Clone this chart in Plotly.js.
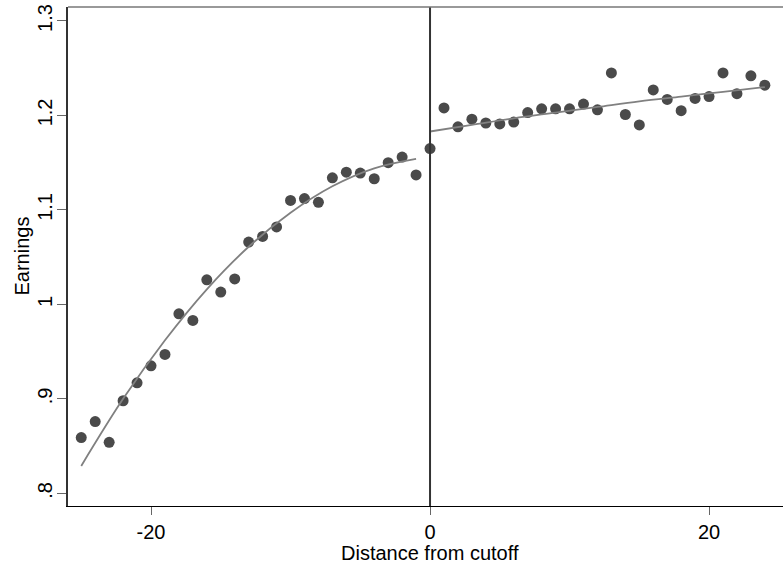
<!DOCTYPE html>
<html>
<head>
<meta charset="utf-8">
<script src="https://cdn.plot.ly/plotly-3.0.1.min.js"></script>
<style>html,body{margin:0;padding:0;background:#fff;}#chart{width:783px;height:569px;}</style>
</head>
<body>
<div id="chart"></div>
<script>
// Binned scatter: distance from cutoff vs earnings
const leftX = [-25,-24,-23,-22,-21,-20,-19,-18,-17,-16,-15,-14,-13,-12,-11,-10,-9,-8,-7,-6,-5,-4,-3,-2,-1];
const leftY = [0.859,0.876,0.854,0.898,0.917,0.935,0.947,0.990,0.983,1.026,1.013,1.027,1.066,1.072,1.082,1.110,1.112,1.108,1.134,1.140,1.139,1.133,1.150,1.156,1.137];
const rightX = [0,1,2,3,4,5,6,7,8,9,10,11,12,13,14,15,16,17,18,19,20,21,22,23,24];
const rightY = [1.165,1.208,1.188,1.196,1.192,1.191,1.193,1.203,1.207,1.207,1.207,1.212,1.206,1.245,1.201,1.190,1.227,1.217,1.205,1.218,1.220,1.245,1.223,1.242,1.232];
// Fitted curves
const fitLeftX = [-25,-22,-19,-16,-13,-10,-7,-4,-1];
const fitLeftY = [0.829,0.900,0.962,1.016,1.061,1.097,1.125,1.144,1.154];
const fitRightX = [0,3,6,9,12,15,18,21,24];
const fitRightY = [1.183,1.190,1.197,1.203,1.209,1.215,1.220,1.225,1.230];
const yTickVals = [0.8,0.9,1.0,1.1,1.2,1.3];
const yTickText = [".8",".9","1","1.1","1.2","1.3"];
const xTickVals = [-20,0,20];
const xTickText = ["-20","0","20"];

const markerStyle = {color:'#4a4a4a', size:11, line:{width:0}};
const fitStyle = {color:'#808080', width:1.8, shape:'spline'};

const traces = [
  {x:leftX, y:leftY, type:'scatter', mode:'markers', marker:markerStyle, hoverinfo:'skip'},
  {x:rightX, y:rightY, type:'scatter', mode:'markers', marker:markerStyle, hoverinfo:'skip'},
  {x:fitLeftX, y:fitLeftY, type:'scatter', mode:'lines', line:fitStyle, hoverinfo:'skip'},
  {x:fitRightX, y:fitRightY, type:'scatter', mode:'lines', line:fitStyle, hoverinfo:'skip'}
];

const fam = 'Liberation Sans, Arial, sans-serif';
const fs = 20;

const layout = {
  width:783, height:569,
  margin:{l:68, r:0, t:7, b:63, pad:0},
  paper_bgcolor:'#fff', plot_bgcolor:'#fff',
  showlegend:false,
  font:{family:fam, size:fs, color:'#000'},
  xaxis:{
    range:[-25.95, 25.3], showgrid:false, zeroline:false,
    showline:true, linecolor:'#000', linewidth:1.2,
    tickmode:'array', tickvals:xTickVals, ticktext:xTickText,
    ticks:'outside', ticklen:8, tickcolor:'#666', tickwidth:1,
    tickfont:{family:fam, size:fs, color:'#000'},
    title:{text:''}
  },
  yaxis:{
    range:[0.7866, 1.3148], showgrid:false, zeroline:false,
    showline:true, linecolor:'#333', linewidth:2,
    tickmode:'array', tickvals:yTickVals, ticktext:yTickText,
    ticks:'outside', ticklen:9, tickcolor:'#666', tickwidth:1,
    tickangle:-90, ticklabelstandoff:-3,
    tickfont:{family:fam, size:fs, color:'#000'},
    title:{text:''}
  },
  shapes:[
    {type:'line', xref:'x', yref:'paper', x0:0, x1:0, y0:0, y1:1, line:{color:'#333', width:2}},
    {type:'line', xref:'paper', yref:'paper', x0:0, x1:1, y0:1, y1:1, line:{color:'#777', width:1.5}}
  ],
  annotations:[
    {text:'Distance from cutoff', xref:'x', yref:'paper', x:0, y:0, yshift:-47, showarrow:false,
     xanchor:'center', yanchor:'middle', borderpad:0, font:{family:fam, size:fs, color:'#000'}},
    {text:'Earnings', xref:'paper', yref:'paper', x:0, xshift:-47, y:0.5, textangle:-90, showarrow:false,
     xanchor:'center', yanchor:'middle', borderpad:0, font:{family:fam, size:fs, color:'#000'}}
  ]
};

Plotly.newPlot('chart', traces, layout, {displayModeBar:false, staticPlot:true});
</script>
</body>
</html>
